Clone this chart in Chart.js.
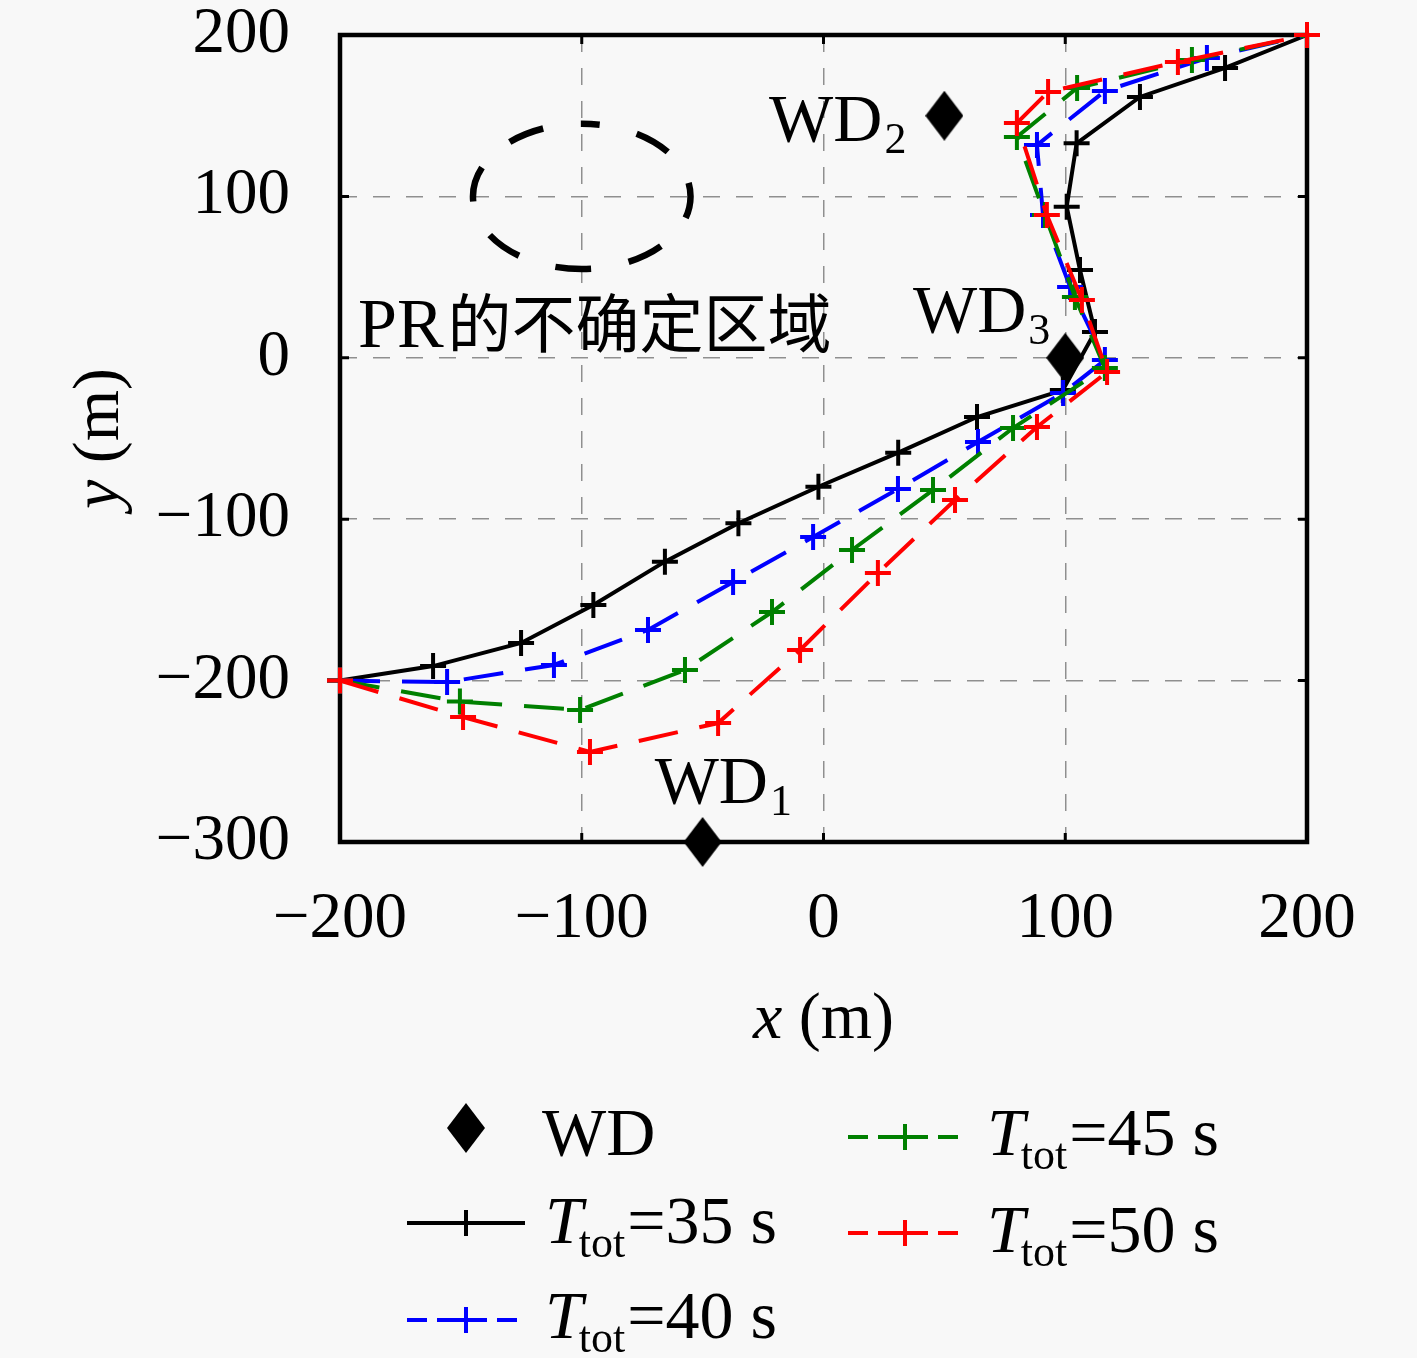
<!DOCTYPE html>
<html>
<head>
<meta charset="utf-8">
<script src="https://cdn.jsdelivr.net/npm/chart.js@4.4.1/dist/chart.umd.min.js"></script>
<style>
    html, body { margin: 0; padding: 0; background: #f8f8f8; }
    #wrap { width: 1417px; height: 1358px; position: relative; }
</style>
</head>
<body>
<div id="wrap"><canvas id="traj-chart"></canvas></div>
<script>

// 축 눈금
const xTicks = [-200, -100, 0, 100, 200];
const yTicks = [-300, -200, -100, 0, 100, 200];

// WD 위치
const wdX = [-50, 50, 100];
const wdY = [-300, 150, 0];
const wdNames = ["1", "2", "3"];

// PR 불확정 영역 (원)
const prCenter = [-100, 100];
const prRadius = 45;

// 궤적 (T_tot = 35 / 40 / 45 / 50 s)
const t35X = [-200, -161.5, -125.1, -95.2, -65.6, -35.2, -2.1, 30.9, 63.5, 99, 112.3, 106.1, 100.6, 104.7, 130.9, 166.1, 200];
const t35Y = [-200, -191, -176.7, -153.2, -126.3, -102.5, -79.9, -58.8, -36.7, -20, 16, 54.4, 93.6, 132.9, 161.6, 179.6, 200];

const t40X = [-200, -155.7, -111.5, -72.6, -37.4, -4.3, 30.8, 63.9, 99.1, 116.4, 102, 90.8, 88.3, 116.4, 158.6, 200];
const t40Y = [-200, -200.9, -190.3, -168.6, -138.9, -111, -81.3, -52.2, -21.8, -1.4, 43.9, 88.5, 131.8, 165.3, 185.7, 200];

const t45X = [-200, -150.4, -100.7, -57.3, -21.3, 11.8, 45.3, 78.4, 116.4, 104, 91.6, 80, 104.9, 152.4, 200];
const t45Y = [-200, -213, -218.2, -193.4, -157.5, -119.1, -81.9, -43.5, -6.3, 37.7, 88.5, 136.8, 167.2, 184.5, 200];

const t50X = [-200, -149.1, -96.6, -43.6, -9.7, 22.5, 54.4, 88.3, 117.3, 106.9, 92.4, 80, 92.9, 146.6, 200];
const t50Y = [-200, -222.6, -244.2, -226.3, -181, -133.3, -88.1, -42.9, -8.8, 35.8, 88.5, 145.5, 164.7, 183.3, 200];

const seriesTimes = ["35", "40", "45", "50"];
const seriesColors = ["#000000", "#0000ff", "#008000", "#ff0000"];


const SERIF = "'Liberation Serif', 'Times New Roman', serif";
const CJK = "'Noto Sans CJK SC', sans-serif";

function toPoints(xs, ys) {
    let pts = [];
    for (let i = 0; i < xs.length; i++) {
        pts.push({ x: xs[i], y: ys[i] });
    }
    return pts;
}

// 마름모 마커
function makeDiamond(w, h) {
    let c = document.createElement("canvas");
    c.width = w;
    c.height = h;
    let g = c.getContext("2d");
    g.fillStyle = "#000";
    g.beginPath();
    g.moveTo(w / 2, 0);
    g.lineTo(w, h / 2);
    g.lineTo(w / 2, h);
    g.lineTo(0, h / 2);
    g.closePath();
    g.fill();
    return c;
}
const diamond = makeDiamond(38, 50);

function minusFmt(v) {
    return String(v).replace("-", "\u2212");
}

// WD + 아래첨자
function drawSubLabel(ctx, main, sub, x, y, align) {
    ctx.font = "68px " + SERIF;
    let w1 = ctx.measureText(main).width;
    ctx.font = "44px " + SERIF;
    let w2 = ctx.measureText(sub).width;
    let x0 = align === "right" ? x - w1 - w2 : x;
    ctx.textAlign = "left";
    ctx.textBaseline = "alphabetic";
    ctx.font = "68px " + SERIF;
    ctx.fillText(main, x0, y);
    ctx.font = "44px " + SERIF;
    ctx.fillText(sub, x0 + w1 + 2, y + 12);
}

// T_tot=.. s
function drawTLabel(ctx, time, x, y) {
    ctx.textAlign = "left";
    ctx.textBaseline = "alphabetic";
    ctx.font = "italic 68px " + SERIF;
    ctx.fillText("T", x, y);
    let w = ctx.measureText("T").width;
    ctx.font = "44px " + SERIF;
    ctx.fillText("tot", x + w - 4, y + 14);
    let w2 = ctx.measureText("tot").width;
    ctx.font = "68px " + SERIF;
    ctx.fillText("=" + time + " s", x + w - 4 + w2 + 2, y);
}

function legendLine(ctx, x1, x2, y, color, dashed) {
    ctx.save();
    ctx.strokeStyle = color;
    ctx.lineWidth = 4;
    ctx.setLineDash(dashed ? [20, 10] : []);
    ctx.beginPath();
    ctx.moveTo(x1, y);
    ctx.lineTo(x2, y);
    ctx.stroke();
    ctx.setLineDash([]);
    let m = (x1 + x2) / 2;
    ctx.beginPath();
    ctx.moveTo(m - 13, y);
    ctx.lineTo(m + 13, y);
    ctx.moveTo(m, y - 13);
    ctx.lineTo(m, y + 13);
    ctx.stroke();
    ctx.restore();
}


const overlay = {
    id: "overlay",
    beforeDatasetsDraw(chart) {
        const ctx = chart.ctx;
        const a = chart.chartArea;
        const xs = chart.scales.x;
        const ys = chart.scales.y;

        // 테두리
        ctx.save();
        ctx.strokeStyle = "#000";
        ctx.lineWidth = 4.5;
        ctx.strokeRect(a.left, a.top, a.right - a.left, a.bottom - a.top);

        // 안쪽 눈금
        ctx.lineWidth = 3;
        ctx.beginPath();
        xTicks.forEach(function (v) {
            let p = xs.getPixelForValue(v);
            ctx.moveTo(p, a.bottom); ctx.lineTo(p, a.bottom - 9);
            ctx.moveTo(p, a.top); ctx.lineTo(p, a.top + 9);
        });
        yTicks.forEach(function (v) {
            let p = ys.getPixelForValue(v);
            ctx.moveTo(a.left, p); ctx.lineTo(a.left + 9, p);
            ctx.moveTo(a.right, p); ctx.lineTo(a.right - 9, p);
        });
        ctx.stroke();

        // PR 불확정 영역
        let cx = xs.getPixelForValue(prCenter[0]);
        let cy = ys.getPixelForValue(prCenter[1]);
        let rx = xs.getPixelForValue(prCenter[0] + prRadius) - cx;
        let ry = cy - ys.getPixelForValue(prCenter[1] + prRadius);
        ctx.lineWidth = 6.5;
        ctx.setLineDash([36, 38]);
        ctx.lineDashOffset = 18;
        ctx.beginPath();
        ctx.ellipse(cx, cy, rx, ry, 0, -Math.PI / 2, 1.5 * Math.PI);
        ctx.stroke();
        ctx.restore();
    },
    afterDatasetsDraw(chart) {
        const ctx = chart.ctx;
        const xs = chart.scales.x;
        const ys = chart.scales.y;
        ctx.save();
        ctx.fillStyle = "#000";

        // WD 라벨
        let offs = [[-48, -39, "left"], [-40, 25, "right"], [-17, -26, "right"]];
        for (let i = 0; i < wdX.length; i++) {
            let px = xs.getPixelForValue(wdX[i]) + offs[i][0];
            let py = ys.getPixelForValue(wdY[i]) + offs[i][1];
            drawSubLabel(ctx, "WD", wdNames[i], px, py, offs[i][2]);
        }

        // PR的不确定区域
        ctx.textAlign = "left";
        ctx.textBaseline = "alphabetic";
        ctx.font = "70px " + SERIF;
        ctx.fillText("PR", 358, 347);
        let w = ctx.measureText("PR").width;
        ctx.font = "64px " + CJK;
        ctx.fillText("的不确定区域", 358 + w + 4, 347);
        ctx.restore();
    },
    afterDraw(chart) {
        const ctx = chart.ctx;
        const a = chart.chartArea;
        ctx.save();
        ctx.fillStyle = "#000";

        // 축 제목
        ctx.textBaseline = "alphabetic";
        ctx.textAlign = "left";
        let cxm = (a.left + a.right) / 2;
        ctx.font = "italic 66px " + SERIF;
        let wx = ctx.measureText("x").width;
        ctx.font = "66px " + SERIF;
        let wm = ctx.measureText(" (m)").width;
        let sx = cxm - (wx + wm) / 2;
        ctx.font = "italic 66px " + SERIF;
        ctx.fillText("x", sx, 1038);
        ctx.font = "66px " + SERIF;
        ctx.fillText(" (m)", sx + wx, 1038);

        ctx.save();
        ctx.translate(118, (a.top + a.bottom) / 2);
        ctx.rotate(-Math.PI / 2);
        ctx.font = "italic 66px " + SERIF;
        let wy = ctx.measureText("y").width;
        ctx.fillText("y", -(wy + wm) / 2, 0);
        ctx.font = "66px " + SERIF;
        ctx.fillText(" (m)", -(wy + wm) / 2 + wy, 0);
        ctx.restore();

        // 범례
        ctx.drawImage(diamond, 466 - 19, 1128 - 25);
        ctx.font = "68px " + SERIF;
        ctx.fillText("WD", 542, 1155);

        legendLine(ctx, 407, 525, 1223, seriesColors[0], false);
        drawTLabel(ctx, seriesTimes[0], 545, 1243);
        legendLine(ctx, 407, 525, 1320, seriesColors[1], true);
        drawTLabel(ctx, seriesTimes[1], 545, 1338);
        legendLine(ctx, 848, 962, 1137, seriesColors[2], true);
        drawTLabel(ctx, seriesTimes[2], 987, 1155);
        legendLine(ctx, 848, 962, 1233, seriesColors[3], true);
        drawTLabel(ctx, seriesTimes[3], 987, 1252);
        ctx.restore();
    }
};


function lineSet(label, xs, ys, color, dashed, order) {
    return {
        label: label,
        data: toPoints(xs, ys),
        showLine: true,
        borderColor: color,
        backgroundColor: color,
        borderWidth: 4,
        borderDash: dashed ? [40, 22] : [],
        pointStyle: "cross",
        pointRadius: 13,
        pointBorderWidth: 4,
        pointBorderColor: color,
        tension: 0,
        clip: false,
        order: order
    };
}

// 축 여백 제거 (차트 영역 고정)
function noPad(s) {
    s.paddingTop = 0;
    s.paddingBottom = 0;
    s.paddingLeft = 0;
    s.paddingRight = 0;
}

let chart = new Chart(document.getElementById("traj-chart"), {
    type: "scatter",
    data: {
        datasets: [
            {
                label: "WD",
                data: toPoints(wdX, wdY),
                pointStyle: diamond,
                pointRadius: 20,
                showLine: false,
                clip: false,
                order: 5
            },
            lineSet("T_tot=35 s", t35X, t35Y, seriesColors[0], false, 4),
            lineSet("T_tot=40 s", t40X, t40Y, seriesColors[1], true, 3),
            lineSet("T_tot=45 s", t45X, t45Y, seriesColors[2], true, 2),
            lineSet("T_tot=50 s", t50X, t50Y, seriesColors[3], true, 1)
        ]
    },
    options: {
        responsive: true,
        maintainAspectRatio: false,
        animation: false,
        events: [],
        layout: { padding: { top: 35, right: 110, bottom: 396, left: 0 } },
        plugins: {
            legend: { display: false },
            tooltip: { enabled: false }
        },
        scales: {
            x: {
                type: "linear",
                min: -200,
                max: 200,
                afterFit: function (s) { s.height = 120; noPad(s); },
                afterBuildTicks: function (s) { s.ticks = xTicks.map(function (v) { return { value: v }; }); },
                ticks: {
                    color: "#000",
                    padding: 45,
                    maxRotation: 0,
                    font: { family: SERIF, size: 65, lineHeight: 1 },
                    callback: minusFmt
                },
                grid: { color: "#8f8f8f", lineWidth: 1.5, drawTicks: false },
                border: { display: false, dash: [17, 16] }
            },
            y: {
                type: "linear",
                min: -300,
                max: 200,
                afterFit: function (s) { s.width = 340; noPad(s); },
                afterBuildTicks: function (s) { s.ticks = yTicks.map(function (v) { return { value: v }; }); },
                ticks: {
                    color: "#000",
                    padding: 50,
                    font: { family: SERIF, size: 65, lineHeight: 1 },
                    callback: minusFmt
                },
                grid: { color: "#8f8f8f", lineWidth: 1.5, drawTicks: false },
                border: { display: false, dash: [17, 16] }
            }
        }
    },
    plugins: [overlay]
});

</script>
</body>
</html>
